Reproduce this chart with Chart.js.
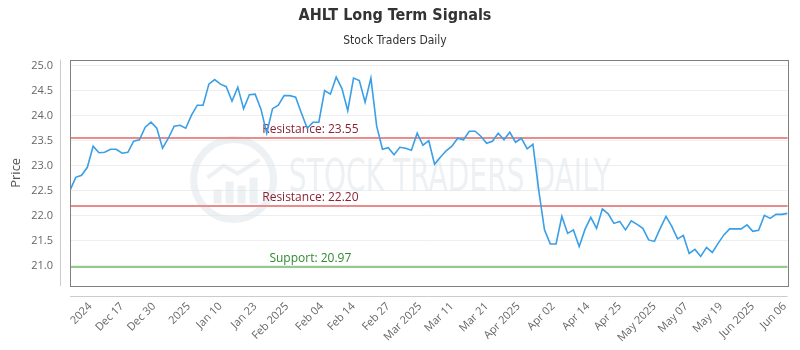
<!DOCTYPE html>
<html>
<head>
<meta charset="utf-8">
<title>AHLT Long Term Signals</title>
<script src="https://cdn.jsdelivr.net/npm/chart.js@4.4.1/dist/chart.umd.min.js"></script>
<style>
  html, body { margin: 0; padding: 0; background: #fff; }
  #wrap { width: 800px; height: 350px; }
</style>
</head>
<body>
<div id="wrap"><canvas id="signalChart" width="800" height="350"></canvas></div>
<script>
// daily closes (one value per trading day)
const prices = [
  22.51, 22.77, 22.81, 22.97, 23.39, 23.26, 23.27, 23.33, 23.33, 23.25,
  23.27, 23.49, 23.52, 23.77, 23.87, 23.75, 23.35, 23.55, 23.79, 23.81,
  23.75, 24.01, 24.21, 24.21, 24.63, 24.72, 24.63, 24.58, 24.29, 24.57,
  24.14, 24.42, 24.43, 24.13, 23.65, 24.14, 24.21, 24.40, 24.40, 24.37,
  24.05, 23.75, 23.87, 23.87, 24.50, 24.43, 24.77, 24.54, 24.10, 24.75,
  24.70, 24.27, 24.75, 23.79, 23.33, 23.36, 23.22, 23.37, 23.35, 23.31,
  23.65, 23.41, 23.50, 23.03, 23.17, 23.30, 23.39, 23.55, 23.52, 23.69,
  23.69, 23.59, 23.45, 23.49, 23.65, 23.52, 23.67, 23.47, 23.55, 23.34,
  23.43, 22.52, 21.72, 21.44, 21.44, 21.99, 21.65, 21.72, 21.39, 21.73,
  21.97, 21.75, 22.14, 22.04, 21.85, 21.89, 21.72, 21.90, 21.83, 21.75,
  21.52, 21.49, 21.75, 21.99, 21.79, 21.54, 21.61, 21.25, 21.33, 21.19,
  21.37, 21.27, 21.45, 21.62, 21.74, 21.74, 21.74, 21.82, 21.69, 21.71,
  22.01, 21.95, 22.03, 22.03, 22.05
];

// tick marks fall between trading days in the original, hence the halves
const tickIndex = [3.5, 9, 14.5, 20.5, 26, 32, 37.5, 43.5, 49, 55, 60.5, 66, 72, 77.5, 83.5, 89.5, 95, 101, 106.5, 112.5, 118, 123.5];
const tickLabels = [
  '2024', 'Dec 17', 'Dec 30', '2025', 'Jan 10', 'Jan 23', 'Feb 2025', 'Feb 04',
  'Feb 14', 'Feb 27', 'Mar 2025', 'Mar 11', 'Mar 21', 'Apr 2025', 'Apr 02',
  'Apr 14', 'Apr 25', 'May 2025', 'May 07', 'May 19', 'Jun 2025', 'Jun 06'
];
const yTicks = [21.0, 21.5, 22.0, 22.5, 23.0, 23.5, 24.0, 24.5, 25.0];

const levelValues = [23.55, 22.20, 20.97];
const levelLabels = ['Resistance: 23.55', 'Resistance: 22.20', 'Support: 20.97'];
const levelKinds = ['resistance', 'resistance', 'support'];

const LEVEL_STYLE = {
  resistance: { line: '#e88c8c', text: '#8a2433' },
  support: { line: '#92cc8c', text: '#2f8a2f' }
};

const TICK_FONT = { family: "'Open Sans', sans-serif", size: 11 };

// faint logo behind the plot
const watermarkPlugin = {
  id: 'watermark',
  beforeDatasetsDraw(chart) {
    const { ctx, chartArea: a } = chart;
    const w = a.right - a.left;
    const h = a.bottom - a.top;
    const cx = a.left + 0.228 * w;
    const cy = a.top + 0.53 * h;

    ctx.save();
    ctx.strokeStyle = 'rgba(220, 227, 234, 0.5)';
    ctx.fillStyle = 'rgba(220, 227, 234, 0.5)';
    ctx.lineWidth = 7;
    ctx.beginPath();
    ctx.arc(cx, cy, 40, 0, Math.PI * 2);
    ctx.stroke();

    [[-20, 14], [-8, 22], [4, 18], [16, 26]].forEach(([dx, bh]) => {
      ctx.fillRect(cx + dx, cy + 24 - bh, 8, bh);
    });
    ctx.lineWidth = 4;
    ctx.beginPath();
    ctx.moveTo(cx - 26, cy - 2);
    ctx.lineTo(cx - 10, cy - 14);
    ctx.lineTo(cx + 4, cy - 6);
    ctx.lineTo(cx + 26, cy - 20);
    ctx.stroke();

    ctx.font = "44px 'DejaVu Sans Condensed', sans-serif";
    ctx.textAlign = 'left';
    ctx.textBaseline = 'middle';
    ctx.fillText('STOCK TRADERS DAILY', a.left + 0.305 * w, cy, 322);
    ctx.restore();
  }
};

// resistance / support lines with their captions
const levelsPlugin = {
  id: 'levels',
  beforeDatasetsDraw(chart) {
    const { ctx, chartArea: a } = chart;
    const yScale = chart.scales.y;

    ctx.save();
    levelValues.forEach((value, i) => {
      const style = LEVEL_STYLE[levelKinds[i]];
      const y = Math.round(yScale.getPixelForValue(value));

      ctx.strokeStyle = style.line;
      ctx.lineWidth = 2;
      ctx.beginPath();
      ctx.moveTo(a.left, y);
      ctx.lineTo(a.right, y);
      ctx.stroke();

      ctx.fillStyle = style.text;
      ctx.font = "12px 'Open Sans', sans-serif";
      ctx.textAlign = 'center';
      ctx.textBaseline = 'alphabetic';
      ctx.fillText(levelLabels[i], a.left + 0.335 * (a.right - a.left), y - 5);
    });
    ctx.restore();
  }
};

// plot box and the offset axis lines
const framePlugin = {
  id: 'frame',
  afterDraw(chart) {
    const { ctx, chartArea: a } = chart;
    ctx.save();
    ctx.strokeStyle = '#808080';
    ctx.lineWidth = 1;
    ctx.strokeRect(Math.round(a.left) + 0.5, Math.round(a.top) + 0.5,
      Math.round(a.right - a.left), Math.round(a.bottom - a.top));

    ctx.strokeStyle = '#cccccc';
    ctx.beginPath();
    ctx.moveTo(Math.round(a.left) - 10 + 0.5, a.top);
    ctx.lineTo(Math.round(a.left) - 10 + 0.5, a.bottom);
    ctx.moveTo(a.left, Math.round(a.bottom) + 10 + 0.5);
    ctx.lineTo(a.right, Math.round(a.bottom) + 10 + 0.5);
    ctx.stroke();
    ctx.restore();
  }
};

function renderChart() {
  const canvas = document.getElementById('signalChart');
  if (!canvas || typeof Chart === 'undefined') return;

  new Chart(canvas, {
    type: 'line',
    data: {
      datasets: [
        {
          label: 'AHLT',
          data: prices.map((p, i) => ({ x: i, y: p })),
          borderColor: '#3a9fe6',
          borderWidth: 1.6,
          pointRadius: 0,
          tension: 0,
          fill: false
        }
      ]
    },
    options: {
      responsive: false,
      animation: false,
      layout: { padding: { left: 0, right: 10, top: 0, bottom: 0 } },
      plugins: {
        legend: { display: false },
        tooltip: { enabled: false },
        title: {
          display: true,
          text: 'AHLT Long Term Signals',
          color: '#333333',
          font: { family: "'DejaVu Sans Condensed', sans-serif", size: 16, weight: 'bold' },
          padding: { top: 6, bottom: 8 }
        },
        subtitle: {
          display: true,
          text: 'Stock Traders Daily',
          color: '#333333',
          font: { family: "'DejaVu Sans Condensed', sans-serif", size: 12 },
          padding: { top: 0, bottom: 12 }
        }
      },
      scales: {
        x: {
          type: 'linear',
          min: 0,
          max: prices.length - 1,
          grid: { display: false },
          border: { display: false },
          afterBuildTicks: axis => {
            axis.ticks = tickIndex.map(v => ({ value: v }));
          },
          afterFit: scale => {
            scale.height = 64;
          },
          ticks: {
            autoSkip: false,
            minRotation: 45,
            maxRotation: 45,
            padding: 6,
            color: '#666666',
            font: TICK_FONT,
            callback: value => {
              const i = tickIndex.indexOf(value);
              return i >= 0 ? tickLabels[i] : '';
            }
          }
        },
        y: {
          min: 20.6,
          max: 25.12,
          grid: { color: '#eeeeee', drawTicks: false },
          border: { display: false },
          afterBuildTicks: axis => {
            axis.ticks = yTicks.map(v => ({ value: v }));
          },
          afterFit: scale => {
            scale.width = 70;
          },
          ticks: {
            padding: 17,
            color: '#666666',
            font: TICK_FONT,
            callback: value => Number(value).toFixed(1)
          },
          title: {
            display: true,
            text: 'Price',
            color: '#555555',
            font: { family: "'Open Sans', sans-serif", size: 13 },
            padding: { top: 8, bottom: 0 }
          }
        }
      }
    },
    plugins: [watermarkPlugin, levelsPlugin, framePlugin]
  });
}

document.addEventListener('DOMContentLoaded', renderChart);
</script>
</body>
</html>
